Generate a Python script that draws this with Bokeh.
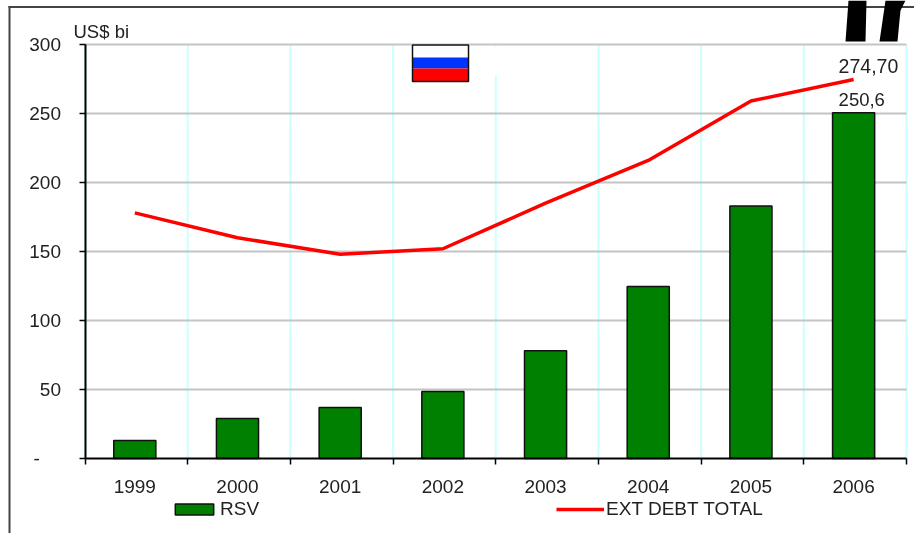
from bokeh.plotting import figure
from bokeh.embed import file_html
from bokeh.resources import INLINE
from bokeh.models import FixedTicker, Label, Legend, LegendItem

years = ["1999", "2000", "2001", "2002", "2003", "2004", "2005", "2006"]
rsv = [13, 29, 37, 48.5, 78, 124.6, 183, 250.6]
ext_debt = [178, 160, 148, 152, 185, 216, 259, 274.7]
y_ticks = [0, 50, 100, 150, 200, 250, 300]
FONT = "Liberation Sans"
INK = "#222222"

W, H = 914, 533
L, R, T, B = 84.5, 906, 44, 458


def dx(px):
    return (px - L) / (R - L) * 8


def dy(px):
    return (B - px) / (B - T) * 300


p = figure(width=W, height=H, output_backend="svg", toolbar_location=None,
           x_range=(dx(0), dx(W)), y_range=(dy(H), dy(0)),
           min_border=0, background_fill_color="white", border_fill_color="white",
           outline_line_color=None)
p.styles = {"position": "fixed", "left": "0px", "top": "0px"}

centers = [i + 0.485 for i in range(len(years))]
edges = list(range(len(years) + 1))

# gridlines limited to the plot area
p.grid.visible = False
p.segment(x0=edges, x1=edges, y0=[0] * len(edges), y1=[300] * len(edges), line_color="#ccffff", line_width=2)
p.segment(x0=[0] * 6, x1=[8] * 6, y0=y_ticks[1:], y1=y_ticks[1:], line_color="#c4c4c4", line_width=2)

# axes, fixed inside a frame that fills the picture
p.xaxis.fixed_location = 0
p.yaxis.fixed_location = 0
p.xaxis.bounds = (0, 8)
p.yaxis.bounds = (0, 300)
p.xaxis.ticker = FixedTicker(ticks=centers, minor_ticks=edges)
p.xaxis.major_label_overrides = {c: y for c, y in zip(centers, years)}
p.xaxis.major_tick_line_color = None
p.xaxis.minor_tick_in = 0
p.xaxis.minor_tick_out = 6
p.xaxis.minor_tick_line_color = "black"
p.xaxis.minor_tick_line_width = 1.5
p.xaxis.major_label_standoff = 15
p.yaxis.ticker = FixedTicker(ticks=y_ticks)
p.yaxis.major_label_overrides = {0: "-\u00a0\u00a0\u00a0\u00a0"}
p.yaxis.major_tick_in = 0
p.yaxis.major_tick_out = 6
p.yaxis.major_tick_line_color = "black"
p.yaxis.major_tick_line_width = 1.5
p.yaxis.minor_tick_line_color = None
p.yaxis.major_label_standoff = 18
for ax in (p.xaxis, p.yaxis):
    ax.axis_line_color = "black"
    ax.axis_line_width = 2
    ax.major_label_text_font = FONT
    ax.major_label_text_font_size = "19px"
    ax.major_label_text_color = INK

# flag (covers a stretch of the gridline behind it)
p.quad(left=dx(412), right=dx(497), top=dy(46), bottom=dy(75), color="white", line_color=None)
p.quad(left=dx(412), right=dx(468), top=dy(44), bottom=dy(57), fill_color="white", line_color=None)
p.quad(left=dx(412), right=dx(468), top=dy(57), bottom=dy(68), fill_color="#0033ff", line_color=None)
p.quad(left=dx(412), right=dx(468), top=dy(68), bottom=dy(81), fill_color="#ff0000", line_color=None)
p.quad(left=dx(412), right=dx(468), top=dy(44.5), bottom=dy(81), fill_color=None, line_color="#111111", line_width=1.5)

# series
bars = p.vbar(x=centers, top=rsv, width=0.41, bottom=0, fill_color="#008000", line_color="#111111", line_width=1.5)
line = p.line(x=centers, y=ext_debt, line_color="#ff0000", line_width=3.5)

# value labels
p.add_layout(Label(x=centers[-1], y=ext_debt[-1], x_offset=-15, y_offset=6, text="274,70",
                   text_font=FONT, text_font_size="19.5px", text_color=INK))
p.add_layout(Label(x=centers[-1], y=rsv[-1], x_offset=-15, y_offset=7, text="250,6",
                   text_font=FONT, text_font_size="18.5px", text_color=INK))
p.add_layout(Label(x=dx(73), y=dy(41), text="US$ bi",
                   text_font=FONT, text_font_size="18.5px", text_color=INK))

# legend
legend = Legend(items=[LegendItem(label="RSV", renderers=[bars]),
                       LegendItem(label="EXT DEBT TOTAL", renderers=[line])],
                orientation="horizontal", location=(170, H - 520),
                spacing=297, glyph_width=48, glyph_height=14, label_standoff=2,
                padding=0, margin=0, border_line_color=None, background_fill_color=None,
                label_text_font=FONT, label_text_font_size="19px", label_text_color=INK)
p.add_layout(legend, "center")

# picture frame and the clipped strokes at the top right
p.patch([dx(v) for v in [8, W, W, 8]], [dy(v) for v in [5.5, 5.5, 7.5, 7.5]], color="#444444", line_color=None)
p.patch([dx(v) for v in [8, 10, 10, 8]], [dy(v) for v in [5.5, 5.5, H, H]], color="#444444", line_color=None)
p.patch([dx(v) for v in [848, 866, 865, 845]], [dy(v) for v in [0, 0, 41, 41]], color="black", line_color=None)
p.patch([dx(v) for v in [885, 905, 900, 899, 897, 879]], [dy(v) for v in [0, 0, 10, 20, 41, 41]], color="black", line_color=None)

open("out.html", "w").write(file_html(p, INLINE))
